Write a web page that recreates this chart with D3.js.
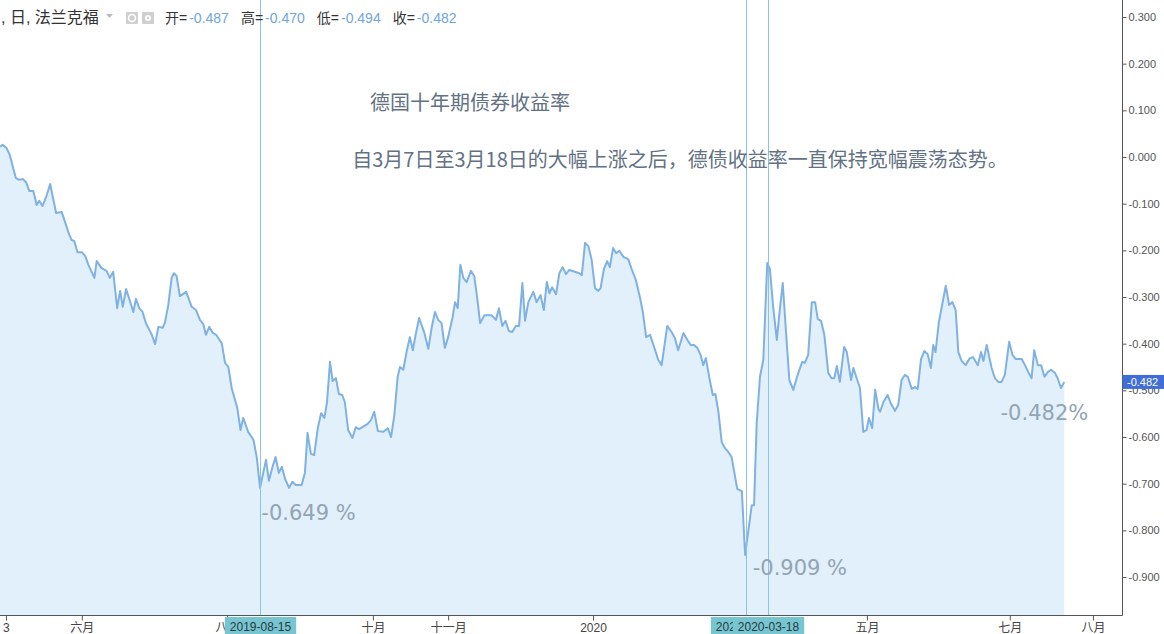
<!DOCTYPE html>
<html><head><meta charset="utf-8">
<script src="https://cdn.jsdelivr.net/npm/d3@7"></script>
<style>
html,body{margin:0;padding:0;background:#fff;}
svg{display:block;}
text{font-family:"Liberation Sans","Noto Sans CJK SC",Arial,sans-serif;}
</style></head>
<body><svg id="chart" width="1164" height="634"></svg>
<script>
// ---- data (German 10Y Bund yield, %, by trading session index) ----
const yieldSeries = [
[0,0.022],[0.8,0.026],[2,0.019],[3,0.004],[4,-0.024],[4.8,-0.045],[5.8,-0.049],[6.9,-0.047],[7.9,-0.054],[8.9,-0.073],[10.1,-0.073],[11.1,-0.103],[11.9,-0.094],[12.9,-0.105],[14.2,-0.081],[15.2,-0.058],[16.2,-0.092],[17,-0.120],[18.7,-0.118],[19.7,-0.139],[20.7,-0.161],[21.7,-0.178],[22.5,-0.180],[23.5,-0.204],[24.8,-0.204],[25.8,-0.212],[26.8,-0.231],[28.6,-0.259],[29.3,-0.223],[30.8,-0.238],[32.3,-0.244],[33.3,-0.259],[34.3,-0.246],[35.5,-0.324],[36.4,-0.287],[37.2,-0.321],[38.2,-0.283],[39.4,-0.309],[40.4,-0.332],[41.2,-0.304],[42.2,-0.324],[43.2,-0.332],[44.2,-0.356],[46,-0.381],[47,-0.401],[48,-0.364],[49.3,-0.366],[50,-0.354],[51,-0.317],[52,-0.259],[52.7,-0.249],[53.5,-0.255],[54.5,-0.298],[56.4,-0.289],[58.1,-0.321],[59.4,-0.328],[60.6,-0.349],[61.6,-0.358],[62.4,-0.381],[63.4,-0.364],[64.5,-0.377],[65.5,-0.381],[67.2,-0.399],[68.2,-0.441],[69.2,-0.450],[70.2,-0.495],[71.9,-0.538],[72.9,-0.585],[73.7,-0.559],[75.2,-0.589],[76.8,-0.606],[77.8,-0.643],[78.8,-0.709],[80.6,-0.649],
[81.5,-0.694],[82.5,-0.666],[83.5,-0.643],[84.5,-0.677],[85.4,-0.664],[86.4,-0.690],[87.6,-0.709],[88.6,-0.696],[89.6,-0.703],[91.4,-0.703],[92.4,-0.677],[93.2,-0.591],[94.2,-0.636],[95.2,-0.639],[96.3,-0.581],[97.3,-0.549],[98.3,-0.559],[99.1,-0.525],[100,-0.439],[100.8,-0.480],[101.8,-0.474],[102.7,-0.508],[103.7,-0.510],[104.5,-0.525],[105.5,-0.585],[106.8,-0.602],[107.8,-0.579],[108.8,-0.583],[109.8,-0.579],[111.4,-0.572],[112.4,-0.564],[113.4,-0.546],[114.5,-0.587],[116.2,-0.589],[117.5,-0.581],[118.5,-0.600],[119.5,-0.553],[120.5,-0.471],[121.2,-0.450],[122.2,-0.456],[123.2,-0.418],[124.2,-0.386],[125.1,-0.414],[126,-0.379],[127,-0.345],[128.6,-0.377],[129.8,-0.411],[130.8,-0.366],[131.8,-0.332],[132.8,-0.349],[133.8,-0.356],[134.8,-0.409],[135.8,-0.386],[137.1,-0.345],[137.9,-0.311],[138.7,-0.324],[139.5,-0.231],[140.4,-0.259],[141.4,-0.268],[142.7,-0.244],[143.7,-0.255],[144.5,-0.296],[145.5,-0.356],[146.8,-0.339],[149,-0.339],[150.3,-0.349],[151.2,-0.324],[152.2,-0.362],[153.2,-0.351],[154.2,-0.373],[155.2,-0.375],[156.3,-0.362],[157.3,-0.362],[158.3,-0.270],[159.1,-0.351],[160.1,-0.311],
[161.6,-0.289],[162.6,-0.311],[163.8,-0.296],[164.8,-0.328],[165.7,-0.268],[166.5,-0.292],[167.3,-0.279],[168.5,-0.294],[169.5,-0.249],[170.5,-0.236],[171.5,-0.251],[172.5,-0.242],[174.2,-0.246],[175.5,-0.249],[176.3,-0.253],[177.3,-0.184],[178.3,-0.191],[179.3,-0.221],[180.3,-0.281],[181.3,-0.287],[182,-0.281],[183,-0.240],[184,-0.223],[184.8,-0.236],[185.8,-0.195],[186.7,-0.206],[187.7,-0.201],[188.9,-0.214],[190.4,-0.219],[191.4,-0.240],[192.7,-0.264],[193.9,-0.300],[194.8,-0.332],[195.8,-0.386],[197,-0.381],[198.2,-0.407],[199.5,-0.435],[200.5,-0.446],[202.2,-0.362],[203.5,-0.375],[204.5,-0.388],[205.5,-0.414],[207.1,-0.377],[208.3,-0.392],[209.3,-0.403],[210.3,-0.403],[211.3,-0.409],[212.3,-0.424],[213.1,-0.446],[213.9,-0.431],[214.9,-0.471],[216,-0.510],[216.8,-0.508],[217.7,-0.546],[218.7,-0.611],[219.7,-0.624],[220.7,-0.632],[221.7,-0.643],[222.4,-0.671],[223.4,-0.711],[224.8,-0.716],[225.8,-0.853],[226.8,-0.799],[227.8,-0.746],[228.5,-0.746],[229.3,-0.570],[230.3,-0.471],[231.3,-0.435],[232.5,-0.227],[233.3,-0.240],[234.3,-0.321],[235.4,-0.392],[236.2,-0.334],[237.2,-0.270],[238.2,-0.377],[239.2,-0.478],[240.4,-0.499],[241.4,-0.474],[241.9,-0.463],[243.1,-0.439],[243.9,-0.441],[244.9,-0.424],[246,-0.311],[247,-0.311],[247.8,-0.347],[248.8,-0.351],[249.8,-0.381],[251,-0.463],[252,-0.474],[252.8,-0.474],[253.6,-0.448],[254.5,-0.482],[255.8,-0.407],[256.6,-0.418],[257.9,-0.478],[258.6,-0.452],[259.6,-0.474],[260.6,-0.495],[261.6,-0.589],[262.6,-0.585],[263.3,-0.559],[264.3,-0.581],[265.2,-0.499],[266.2,-0.540],[266.7,-0.546],[267.7,-0.525],[269,-0.510],[270,-0.529],[271.2,-0.544],[272.2,-0.531],[273.2,-0.478],[274.2,-0.467],[275.1,-0.471],[276.3,-0.497],[277.3,-0.493],[278.1,-0.497],[279.1,-0.433],[280.1,-0.416],[281.1,-0.422],[282.1,-0.452],[282.8,-0.403],[283.5,-0.418],[284.5,-0.354],[285.5,-0.317],[286.6,-0.276],[287.6,-0.317],[288.6,-0.311],[289.6,-0.328],[290.4,-0.418],[291.4,-0.437],[292.6,-0.446],[293.9,-0.431],[294.9,-0.429],[296.3,-0.446],[297.3,-0.418],[298,-0.437],[299,-0.403],[300.5,-0.452],[301.5,-0.474],[302.5,-0.482],[303.5,-0.482],[304.5,-0.467],[305.8,-0.396],[306.8,-0.424],[307.8,-0.433],[309.6,-0.433],[310.6,-0.446],[311.6,-0.461],[312.6,-0.474],[313.4,-0.414],[314.5,-0.446],[315.5,-0.446],[316.5,-0.471],[317.5,-0.461],[318.5,-0.456],[319.7,-0.463],[320.5,-0.474],[321.5,-0.495],[322.5,-0.482]
];
const yTicks = [0.3,0.2,0.1,0,-0.1,-0.2,-0.3,-0.4,-0.5,-0.6,-0.7,-0.8,-0.9];
const xTickSessions = [1.8,24.8,68.8,113,135.8,179.7,262.7,306,331.2];
const xTickLabels = ["3","六月","八月","十月","十一月","2020","五月","七月","八月"];
const markerSessions = [78.8,226.1,232.6];
const markerLabels = ["2019-08-15","2020-03-09","2020-03-18"];
const ohlcLabels = ["开=","高=","低=","收="];
const ohlcValues = ["-0.487","-0.470","-0.494","-0.482"];
const lastValue = -0.482;
const annoTexts = ["-0.649 %","-0.909 %","-0.482%"];
const annoSessions = [79.2,228.1,303.2];
const annoValues = [-0.778,-0.896,-0.564];
const headerText = ", 日, 法兰克福";
const titleText = "德国十年期债券收益率";
const subtitleText = "自3月7日至3月18日的大幅上涨之后，德债收益率一直保持宽幅震荡态势。";

// ---- layout ----
const W = 1164, H = 634, plotR = 1122, plotB = 615;
const svg = d3.select("#chart");
const x = d3.scaleLinear().domain([0,340]).range([0,plotR]);
const y = d3.scaleLinear().domain([0.3,-0.9]).range([17,577]);

svg.append("clipPath").attr("id","clip").append("rect")
  .attr("x",0).attr("y",0).attr("width",plotR).attr("height",plotB);
const g = svg.append("g").attr("clip-path","url(#clip)");

g.append("path").datum(yieldSeries)
  .attr("fill","#e1f0fb")
  .attr("d", d3.area().x(d=>x(d[0])).y0(plotB).y1(d=>y(d[1])));
g.append("path").datum(yieldSeries)
  .attr("fill","none").attr("stroke","#7fb2e2").attr("stroke-width",2)
  .attr("stroke-linejoin","round")
  .attr("d", d3.line().x(d=>x(d[0])).y(d=>y(d[1])));

// marker verticals
g.selectAll("line.mk").data(markerSessions).enter().append("line")
  .attr("x1",d=>Math.round(x(d))+0.5).attr("x2",d=>Math.round(x(d))+0.5)
  .attr("y1",0).attr("y2",plotB)
  .attr("stroke","#8cc3de").attr("stroke-width",1);

// titles
svg.append("text").attr("x",470).attr("y",101).attr("text-anchor","middle")
  .attr("dominant-baseline","central")
  .style("font-family","'Noto Sans CJK SC',sans-serif").style("font-size","20px")
  .attr("fill","#627284").text(titleText);
svg.append("text").attr("x",680).attr("y",158).attr("text-anchor","middle")
  .attr("dominant-baseline","central")
  .style("font-family","'Noto Sans CJK SC',sans-serif").style("font-size","20px")
  .attr("fill","#627284").text(subtitleText);

// annotations
svg.selectAll("text.anno").data(annoTexts).enter().append("text")
  .attr("x",(d,i)=>x(annoSessions[i])).attr("y",(d,i)=>y(annoValues[i]))
  .style("font-family","'DejaVu Sans',sans-serif").style("font-size","21px")
  .attr("fill","#93a4b4").text(d=>d);

// axes frame
svg.append("line").attr("x1",plotR+0.5).attr("x2",plotR+0.5).attr("y1",0).attr("y2",plotB+0.5)
  .attr("stroke","#555").attr("stroke-width",1);
svg.append("line").attr("x1",0).attr("x2",plotR+0.5).attr("y1",plotB+0.5).attr("y2",plotB+0.5)
  .attr("stroke","#555").attr("stroke-width",1);

// right axis
const ya = svg.append("g").attr("transform",`translate(${plotR+0.5},0)`)
  .call(d3.axisRight(y).tickValues(yTicks).tickSize(4).tickPadding(2)
    .tickFormat(d=>d.toFixed(3)));
ya.select(".domain").remove();
ya.selectAll("line").attr("stroke","#555");
ya.selectAll("text").style("font-size","11px").attr("fill","#555")
  .style("font-family","'Liberation Sans',Arial,sans-serif");

// bottom axis
const xa = svg.append("g").attr("transform",`translate(0,${plotB+0.5})`)
  .call(d3.axisBottom(x).tickValues(xTickSessions).tickSize(5).tickPadding(3)
    .tickFormat((d,i)=>xTickLabels[i]));
xa.select(".domain").remove();
xa.selectAll("line").attr("stroke","#555");
xa.selectAll("text").style("font-size","12px").attr("fill","#444");

// marker date boxes on x axis
markerSessions.forEach((s,i)=>{
  const cx = Math.round(x(s))+0.5;
  const t = svg.append("text").attr("x",cx).attr("y",631).attr("text-anchor","middle")
    .style("font-size","12px").attr("fill","#2a3a40").text(markerLabels[i]);
  const w = t.node().getComputedTextLength()+10;
  svg.insert("rect", function(){return t.node();})
    .attr("x",cx-w/2).attr("y",617).attr("width",w).attr("height",17)
    .attr("fill","#76c5d0");
});

// last price label
const ly = y(lastValue);
svg.append("rect").attr("x",plotR+0.5).attr("y",ly-7).attr("width",W-plotR).attr("height",14)
  .attr("fill","#3f6ed6");
svg.append("text").attr("x",plotR+5).attr("y",ly).attr("dominant-baseline","central")
  .style("font-size","11px").attr("fill","#fff").text(lastValue.toFixed(3));

// header
svg.append("text").attr("x",1).attr("y",23)
  .style("font-size","16px").attr("fill","#333").text(headerText);
svg.append("path").attr("d","M106,14 L113,14 L109.5,18 Z").attr("fill","#bbb");
svg.append("rect").attr("x",126).attr("y",12).attr("width",12).attr("height",12).attr("rx",1).attr("fill","#cfcfcf");
svg.append("circle").attr("cx",132).attr("cy",18).attr("r",3.5).attr("fill","none").attr("stroke","#fff").attr("stroke-width",1.5);
svg.append("rect").attr("x",142).attr("y",12).attr("width",12).attr("height",12).attr("rx",1).attr("fill","#cfcfcf");
svg.append("circle").attr("cx",148).attr("cy",18).attr("r",3).attr("fill","#fff");
svg.append("circle").attr("cx",148).attr("cy",18).attr("r",1.3).attr("fill","#cfcfcf");

const oh = svg.append("text").attr("x",165).attr("y",23).style("font-size","14px");
ohlcLabels.forEach((l,i)=>{
  oh.append("tspan").attr("dx", i===0?0:12).attr("fill","#333").text(l);
  oh.append("tspan").attr("dx",2).attr("fill","#6ea6dc").text(ohlcValues[i]);
});
</script></body></html>
